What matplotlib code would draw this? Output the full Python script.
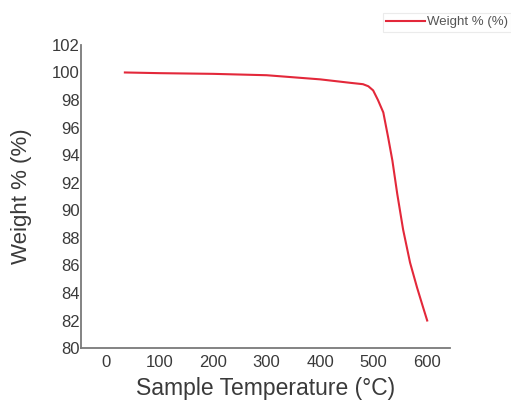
import matplotlib.pyplot as plt

# TGA curve
temperature = [35, 100, 200, 300, 400, 456, 480, 490, 499, 508, 518, 527, 535,
               544, 555, 568, 581, 592, 600]
weight = [100.0, 99.95, 99.9, 99.8, 99.5, 99.25, 99.15, 99.0, 98.7, 98.0, 97.1,
          95.3, 93.6, 91.2, 88.6, 86.2, 84.4, 83.0, 82.0]

x_ticks = [0, 100, 200, 300, 400, 500, 600]
y_ticks = list(range(80, 103, 2))

plt.rcParams['font.family'] = ['Liberation Sans', 'DejaVu Sans']
text_color = '#3a3a3a'

fig = plt.figure(figsize=(5.11, 4.01), dpi=100)
ax = fig.add_axes([0.1585, 0.132, 0.7225, 0.756])

ax.plot(temperature, weight, color='#e3283a', linewidth=1.5, label='Weight % (%)')

ax.set_xlim(-47, 643)
ax.set_ylim(80, 102)
ax.set_xticks(x_ticks)
ax.set_yticks(y_ticks)
ax.tick_params(length=0, labelsize=12, labelcolor=text_color)
ax.tick_params(axis='x', pad=5)
ax.tick_params(axis='y', pad=1)

for side in ['top', 'right']:
    ax.spines[side].set_visible(False)
for side in ['left', 'bottom']:
    ax.spines[side].set_color('#7a7a7a')
    ax.spines[side].set_linewidth(1.3)

ax.set_xlabel('Sample Temperature (°C)', fontsize=16.5, color=text_color, labelpad=5)
ax.set_ylabel('Weight % (%)', fontsize=16, color=text_color, labelpad=14)

leg = fig.legend(loc='upper right', bbox_to_anchor=(1.0, 0.968), fontsize=9.5,
                 frameon=True, fancybox=False, handlelength=3.0, handletextpad=0.1,
                 borderpad=0.25, borderaxespad=0)
leg.get_frame().set_edgecolor('#e6e6e6')
leg.get_frame().set_linewidth(0.8)
for t in leg.get_texts():
    t.set_color('#555555')

fig.savefig('out.png', dpi=100)
